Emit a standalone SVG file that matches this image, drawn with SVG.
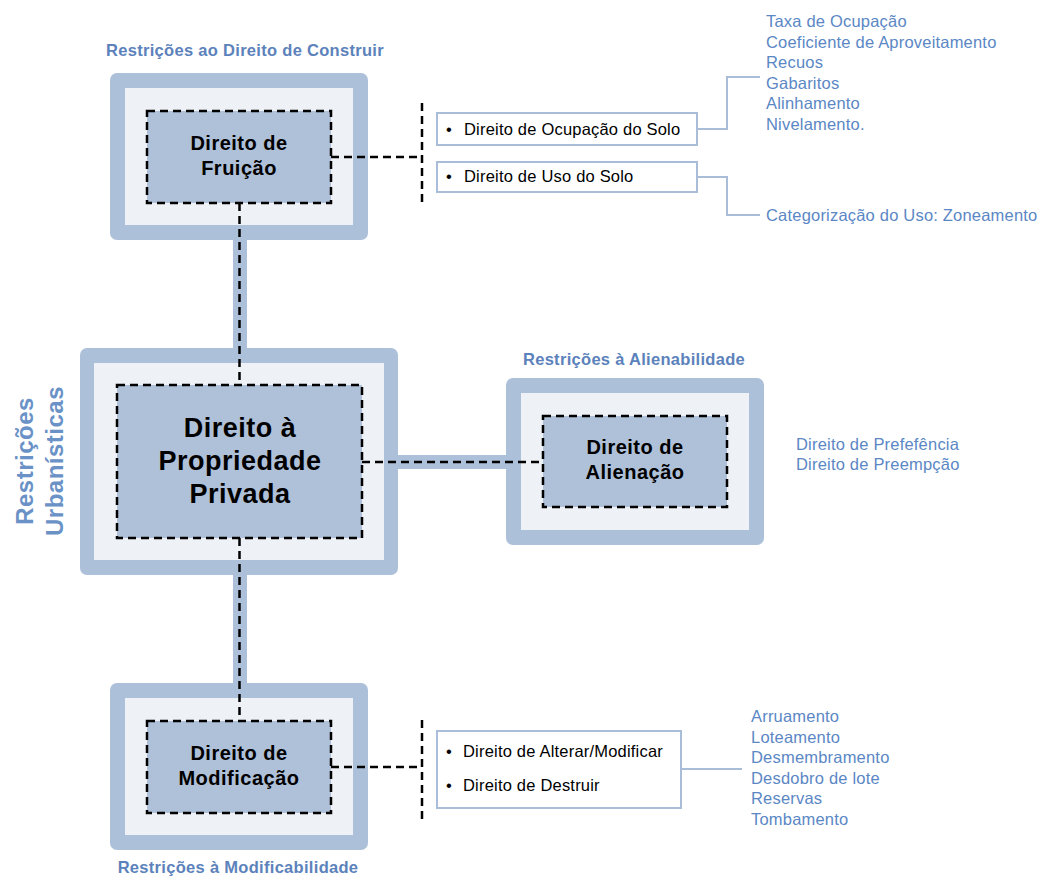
<svg xmlns="http://www.w3.org/2000/svg" width="1042" height="880" viewBox="0 0 1042 880">
<style>
.outer{fill:#adc0da}
.light{fill:#eef1f6}
.inner{fill:#afc1d9;stroke:#000;stroke-width:2.5;stroke-dasharray:8 5}
.dash{fill:none;stroke:#000;stroke-width:2.5;stroke-dasharray:8 5}
.bar{fill:#adc0da}
.lbox{fill:#fff;stroke:#a9bcd8;stroke-width:2}
.lline{fill:none;stroke:#a9bcd8;stroke-width:2}
.node{font-family:"Liberation Sans",Arial,sans-serif;font-weight:bold;font-size:20px;letter-spacing:0.5px;fill:#000;text-anchor:middle}
.big{font-family:"Liberation Sans",Arial,sans-serif;font-weight:bold;font-size:27px;letter-spacing:0.5px;fill:#000;text-anchor:middle}
.title{font-family:"Liberation Sans",Arial,sans-serif;font-weight:bold;font-size:16.5px;letter-spacing:0.3px;fill:#5c82bb;text-anchor:middle}
.list{font-family:"Liberation Sans",Arial,sans-serif;font-size:16.5px;letter-spacing:0.2px;fill:#5b87c5}
.btext{font-family:"Liberation Sans",Arial,sans-serif;font-size:16.5px;letter-spacing:0.2px;fill:#000}
.side{font-family:"Liberation Sans",Arial,sans-serif;font-weight:bold;font-size:24px;letter-spacing:0.5px;fill:#6b92c7;text-anchor:middle}
</style>

<g id="connectors">
  <rect class="bar" x="233" y="238" width="14" height="112"/>
  <rect class="bar" x="233" y="573" width="14" height="112"/>
  <rect class="bar" x="396" y="455" width="112" height="14"/>
  <polyline class="lline" points="697,129 727,129 727,77 760,77"/>
  <polyline class="lline" points="697,177 727,177 727,215 760,215"/>
  <line class="lline" x1="681" y1="769" x2="742" y2="769"/>
</g>

<g id="node-fruicao">
  <rect class="outer" x="110" y="73" width="258" height="167" rx="7"/>
  <rect class="light" x="125" y="88" width="228" height="137"/>
  <rect class="inner" x="147" y="111" width="184" height="92"/>
  <text class="node" x="239" y="150">Direito de</text>
  <text class="node" x="239" y="175">Fruição</text>
</g>

<g id="node-propriedade">
  <rect class="outer" x="80" y="348" width="318" height="227" rx="7"/>
  <rect class="light" x="94" y="363" width="290" height="197"/>
  <rect class="inner" x="117" y="385" width="245" height="153"/>
  <text class="big" x="240" y="437">Direito à</text>
  <text class="big" x="240" y="470">Propriedade</text>
  <text class="big" x="240" y="503">Privada</text>
</g>

<g id="node-alienacao">
  <rect class="outer" x="506" y="378" width="258" height="167" rx="7"/>
  <rect class="light" x="521" y="393" width="228" height="137"/>
  <rect class="inner" x="543" y="416" width="184" height="91"/>
  <text class="node" x="635" y="454">Direito de</text>
  <text class="node" x="635" y="479">Alienação</text>
</g>

<g id="node-modificacao">
  <rect class="outer" x="110" y="683" width="258" height="167" rx="7"/>
  <rect class="light" x="125" y="698" width="228" height="137"/>
  <rect class="inner" x="147" y="721" width="184" height="92"/>
  <text class="node" x="239" y="760">Direito de</text>
  <text class="node" x="239" y="785">Modificação</text>
</g>

<g id="dashed-connectors">
  <line class="dash" x1="239.5" y1="203" x2="239.5" y2="385"/>
  <line class="dash" x1="239.5" y1="538" x2="239.5" y2="721"/>
  <line class="dash" x1="362" y1="462" x2="543" y2="462"/>
  <line class="dash" x1="331" y1="157" x2="422" y2="157"/>
  <line class="dash" x1="422" y1="103" x2="422" y2="207"/>
  <line class="dash" x1="331" y1="767" x2="422" y2="767"/>
  <line class="dash" x1="422" y1="720" x2="422" y2="822"/>
</g>

<g id="labels">
  <text class="title" x="245" y="56">Restrições ao Direito de Construir</text>
  <text class="title" x="634" y="365">Restrições à Alienabilidade</text>
  <text class="title" x="238" y="873">Restrições à Modificabilidade</text>
  <g transform="translate(0,461) rotate(-90)">
    <text class="side" x="0" y="33">Restrições</text>
    <text class="side" x="0" y="63">Urbanísticas</text>
  </g>
</g>

<g id="box-ocupacao">
  <rect class="lbox" x="437" y="113" width="260" height="32"/>
  <text class="btext" x="446" y="135">•</text>
  <text class="btext" x="464" y="135">Direito de Ocupação do Solo</text>
</g>
<g id="box-uso">
  <rect class="lbox" x="437" y="162" width="260" height="30"/>
  <text class="btext" x="446" y="182">•</text>
  <text class="btext" x="464" y="182">Direito de Uso do Solo</text>
</g>
<g id="box-modificar">
  <rect class="lbox" x="437" y="731" width="244" height="77"/>
  <text class="btext" x="446" y="757">•</text>
  <text class="btext" x="463" y="757">Direito de Alterar/Modificar</text>
  <text class="btext" x="446" y="791">•</text>
  <text class="btext" x="463" y="791">Direito de Destruir</text>
</g>

<g id="list-ocupacao">
  <text class="list" x="766" y="27">Taxa de Ocupação</text>
  <text class="list" x="766" y="48">Coeficiente de Aproveitamento</text>
  <text class="list" x="766" y="68">Recuos</text>
  <text class="list" x="766" y="89">Gabaritos</text>
  <text class="list" x="766" y="109">Alinhamento</text>
  <text class="list" x="766" y="130">Nivelamento.</text>
</g>
<g id="list-uso">
  <text class="list" x="766" y="221">Categorização do Uso: Zoneamento</text>
</g>
<g id="list-alienacao">
  <text class="list" x="796" y="450">Direito de Prefefência</text>
  <text class="list" x="796" y="470">Direito de Preempção</text>
</g>
<g id="list-modificacao">
  <text class="list" x="751" y="722">Arruamento</text>
  <text class="list" x="751" y="743">Loteamento</text>
  <text class="list" x="751" y="763">Desmembramento</text>
  <text class="list" x="751" y="784">Desdobro de lote</text>
  <text class="list" x="751" y="804">Reservas</text>
  <text class="list" x="751" y="825">Tombamento</text>
</g>
</svg>
